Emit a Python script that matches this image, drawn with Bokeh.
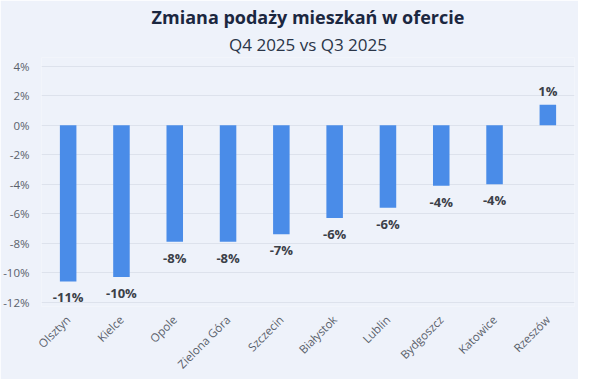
from bokeh.plotting import figure
from bokeh.models import ColumnDataSource, FixedTicker, Title, CustomJSTickFormatter
from bokeh.embed import file_html
from bokeh.resources import INLINE
from bokeh.core.properties import value
import math

cities = ["Olsztyn", "Kielce", "Opole", "Zielona Góra", "Szczecin", "Białystok",
          "Lublin", "Bydgoszcz", "Katowice", "Rzeszów"]
changes = [-10.6, -10.3, -7.9, -7.9, -7.4, -6.3, -5.6, -4.1, -4.0, 1.4]
y_ticks = [-12, -10, -8, -6, -4, -2, 0, 2, 4]
title_text = "Zmiana podaży mieszkań w ofercie"
subtitle_text = "Q4 2025 vs Q3 2025"

BG = "#eef2fa"
BAR = "#4a8ce8"
FONT = "Open Sans"

p = figure(x_range=cities, y_range=(-12.3, 4.6), width=573, height=366,
           frame_width=533, frame_height=249,
           output_backend="svg", toolbar_location=None, title=None,
           background_fill_color=BG, border_fill_color=BG,
           min_border_left=36, min_border_right=4, min_border_top=57, min_border_bottom=0,
           outline_line_color=None)

sub = Title(text=subtitle_text, align="center", text_font=FONT, text_font_size="17px",
            text_font_style="normal", text_color="#2a3548", standoff=4)
main = Title(text=title_text, align="center", text_font=FONT, text_font_size="18px",
             text_font_style="bold", text_color="#1b2740", standoff=0)
p.add_layout(sub, "above")
p.add_layout(main, "above")

src = ColumnDataSource(dict(city=cities, val=changes))
p.vbar(x="city", top="val", bottom=0, width=0.31, source=src, color=BAR, line_color=None)

neg_c = [c for c, v in zip(cities, changes) if v < 0]
neg_v = [v for v in changes if v < 0]
pos_c = [c for c, v in zip(cities, changes) if v >= 0]
pos_v = [v for v in changes if v >= 0]
fmt = lambda v: f"{round(v):d}%"

p.text(x=neg_c, y=neg_v, text=[fmt(v) for v in neg_v], text_align="center",
       text_baseline="top", y_offset=7, text_font=value(FONT), text_font_size="13px",
       text_font_style="bold", text_color="#3b4048")
p.text(x=pos_c, y=pos_v, text=[fmt(v) for v in pos_v], text_align="center",
       text_baseline="bottom", y_offset=-5, text_font=value(FONT), text_font_size="13px",
       text_font_style="bold", text_color="#3b4048")

p.yaxis.ticker = FixedTicker(ticks=y_ticks)
p.yaxis.formatter = CustomJSTickFormatter(code="return tick.toFixed(0) + '%';")
p.yaxis.axis_line_color = None
p.yaxis.major_tick_line_color = None
p.yaxis.minor_tick_line_color = None
p.yaxis.major_label_standoff = 6
p.yaxis.major_label_text_font = FONT
p.yaxis.major_label_text_font_size = "11.5px"
p.yaxis.major_label_text_color = "#5a616b"

p.xaxis.axis_line_color = None
p.xaxis.major_tick_line_color = None
p.xaxis.major_label_orientation = math.pi / 4
p.xaxis.major_label_standoff = 5
p.xaxis.major_label_text_font = FONT
p.xaxis.major_label_text_font_size = "11.5px"
p.xaxis.major_label_text_color = "#5a616b"

p.xgrid.grid_line_color = None
p.ygrid.grid_line_color = "#dde2ec"
p.ygrid.grid_line_width = 1

open("out.html", "w").write(file_html(p, INLINE))
